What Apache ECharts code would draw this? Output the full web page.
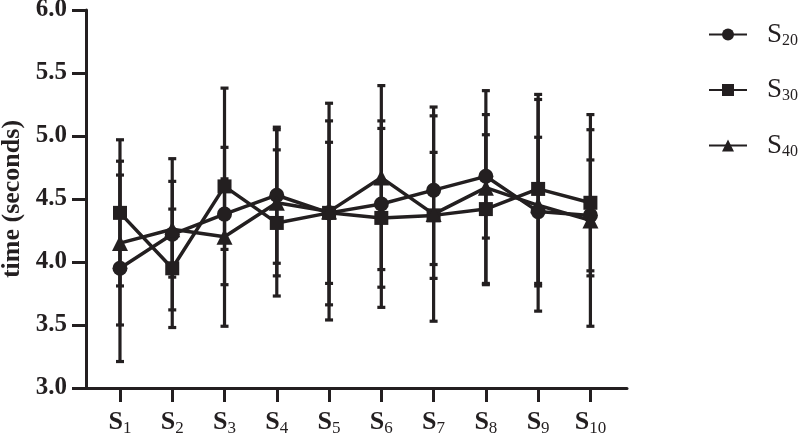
<!DOCTYPE html>
<html>
<head>
<meta charset="utf-8">
<script src="https://cdn.jsdelivr.net/npm/echarts@6/dist/echarts.min.js"></script>
<style>html,body{margin:0;padding:0;background:#fff}#c{width:800px;height:440px}</style>
</head>
<body>
<div id="c"></div>
<script>
const categories = ['S1','S2','S3','S4','S5','S6','S7','S8','S9','S10'];
const yTicks = [3.0, 3.5, 4.0, 4.5, 5.0, 5.5, 6.0];
const seriesNames = ['S20','S30','S40'];
const s20Mean = [3.95, 4.22, 4.38, 4.53, 4.39, 4.46, 4.57, 4.68, 4.40, 4.37];
const s20Sd   = [0.74, 0.60, 0.28, 0.54, 0.73, 0.66, 0.59, 0.49, 0.59, 0.44];
const s30Mean = [4.39, 3.95, 4.60, 4.31, 4.39, 4.35, 4.37, 4.42, 4.58, 4.47];
const s30Sd   = [0.58, 0.47, 0.78, 0.58, 0.56, 0.71, 0.50, 0.59, 0.75, 0.58];
const s40Mean = [4.15, 4.26, 4.20, 4.47, 4.40, 4.67, 4.38, 4.59, 4.45, 4.33];
const s40Sd   = [0.65, 0.38, 0.71, 0.58, 0.86, 0.73, 0.85, 0.77, 0.84, 0.84];

const INK = '#231f20';
const FONT = '"Liberation Serif", "Times New Roman", serif';
const xPos = categories.map((c, i) => i + 1);

function errData(means, sds) {
  return means.map((m, i) => [xPos[i], m - sds[i], m + sds[i]]);
}
function lineData(means) {
  return means.map((m, i) => [xPos[i], m]);
}
function renderErr(params, api) {
  const x = api.value(0);
  const lo = api.coord([x, api.value(1)]);
  const hi = api.coord([x, api.value(2)]);
  const hw = 4;
  const st = { stroke: INK, lineWidth: 3.2 };
  return {
    type: 'group',
    children: [
      { type: 'line', shape: { x1: lo[0], y1: lo[1], x2: hi[0], y2: hi[1] }, style: st },
      { type: 'line', shape: { x1: lo[0] - hw, y1: lo[1], x2: lo[0] + hw, y2: lo[1] }, style: st },
      { type: 'line', shape: { x1: hi[0] - hw, y1: hi[1], x2: hi[0] + hw, y2: hi[1] }, style: st }
    ]
  };
}
function subLabel(name) {
  return '{s|' + name.charAt(0) + '}{sub|' + name.slice(1) + '}';
}

const means = [s20Mean, s30Mean, s40Mean];
const sds = [s20Sd, s30Sd, s40Sd];
const symbols = ['circle', 'rect', 'triangle'];
const symSizes = [15, 14, 16];

const series = [];
seriesNames.forEach((n, k) => {
  series.push({
    name: 'err' + n, type: 'custom', renderItem: renderErr,
    data: errData(means[k], sds[k]), z: 1, silent: true
  });
});
seriesNames.forEach((n, k) => {
  series.push({
    name: n, type: 'line', data: lineData(means[k]),
    symbol: symbols[k], symbolSize: symSizes[k], showSymbol: true,
    lineStyle: { color: INK, width: 3.5 },
    itemStyle: { color: INK, borderWidth: 0 },
    z: 3, animation: false
  });
});

const chart = echarts.init(document.getElementById('c'), null, { renderer: 'canvas' });
chart.setOption({
  animation: false,
  backgroundColor: '#fff',
  grid: { left: 86, top: 10, width: 541, height: 378, containLabel: false, outerBoundsMode: 'none' },
  xAxis: {
    type: 'value', min: 0.35, max: 10.7,
    axisLine: { show: true, lineStyle: { color: INK, width: 3 } },
    axisTick: { show: true, customValues: xPos, length: 14, lineStyle: { color: INK, width: 3 } },
    axisLabel: {
      show: true, customValues: xPos, margin: 20,
      formatter: v => subLabel(categories[Math.round(v) - 1]),
      rich: {
        s: { fontFamily: FONT, fontWeight: 'bold', fontSize: 26, color: INK },
        sub: { fontFamily: FONT, fontSize: 17, color: INK, padding: [12, 0, 0, 0] }
      }
    },
    splitLine: { show: false }
  },
  yAxis: {
    type: 'value', min: yTicks[0], max: yTicks[yTicks.length - 1], interval: 0.5,
    name: 'time (seconds)', nameLocation: 'middle', nameGap: 60,
    nameTextStyle: { fontFamily: FONT, fontWeight: 'bold', fontSize: 26, color: INK },
    axisLine: { show: true, lineStyle: { color: INK, width: 3 } },
    axisTick: { show: true, length: 14, lineStyle: { color: INK, width: 3 } },
    axisLabel: {
      margin: 19, fontFamily: FONT, fontWeight: 'bold', fontSize: 25, color: INK,
      formatter: v => v.toFixed(1)
    },
    splitLine: { show: false }
  },
  legend: {
    data: seriesNames, orient: 'vertical', left: 703, top: 16,
    itemWidth: 38, itemHeight: 15, itemGap: 28,
    formatter: n => subLabel(n),
    textStyle: {
      color: INK, padding: [0, 0, 0, 15],
      rich: {
        s: { fontFamily: FONT, fontSize: 27, color: INK },
        sub: { fontFamily: FONT, fontSize: 16, color: INK, padding: [12, 0, 0, 0] }
      }
    }
  },
  series: series
});
</script>
</body>
</html>
